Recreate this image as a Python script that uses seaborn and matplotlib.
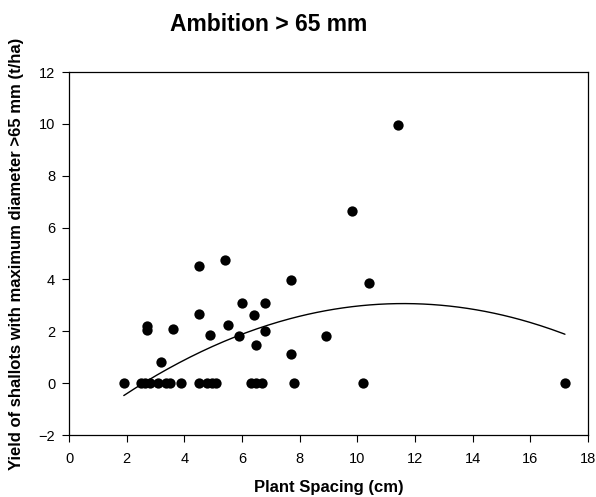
import matplotlib
matplotlib.use("Agg")
import matplotlib.pyplot as plt
import seaborn as sns
import numpy as np
import pandas as pd

spacing = [1.9, 2.5, 2.65, 2.8, 3.1, 3.35, 3.5, 3.9, 4.5, 4.8, 4.95, 5.1,
           6.3, 6.5, 6.7, 7.8, 10.2, 17.2,
           2.7, 2.7, 3.2, 3.6, 4.5, 4.9, 5.5, 5.9, 6.0, 6.4, 6.5, 6.8, 6.8,
           7.7, 8.9, 9.8, 10.4, 11.4, 4.5, 5.4, 7.7]
yield_t = [0, 0, 0, 0, 0, 0, 0, 0, 0, 0, 0, 0,
           0, 0, 0, 0, 0, 0,
           2.2, 2.05, 0.82, 2.1, 2.65, 1.86, 2.26, 1.81, 3.1, 2.63, 1.47, 3.1, 2.02,
           1.12, 1.81, 6.65, 3.85, 9.95, 4.52, 4.74, 3.97]

# quadratic regression curve shown in the chart: y = c2*x^2 + c1*x + c0
fit_coeffs = [-0.0377, 0.8746, -2.003]
fit_range = [1.9, 17.2]

df = pd.DataFrame({"spacing": spacing, "yield": yield_t})
xf = np.linspace(fit_range[0], fit_range[1], 200)
fit_df = pd.DataFrame({"spacing": xf, "yield": np.polyval(fit_coeffs, xf)})

sns.set_style("ticks")
plt.rcParams["font.family"] = ["Liberation Sans", "DejaVu Sans"]
plt.rcParams["text.color"] = "black"
plt.rcParams["axes.labelcolor"] = "black"
plt.rcParams["xtick.color"] = "black"
plt.rcParams["ytick.color"] = "black"

fig = plt.figure(figsize=(5.96, 4.97), dpi=100)
ax = fig.add_axes([0.1158, 0.1247, 0.8708, 0.7304])

sns.scatterplot(data=df, x="spacing", y="yield", ax=ax, s=55, color="black",
                edgecolor="black", linewidth=0, alpha=1, zorder=3)
sns.lineplot(data=fit_df, x="spacing", y="yield", ax=ax, color="black", lw=1.0)

ax.set_xlim(0, 18)
ax.set_ylim(-2, 12)
ax.set_xticks(range(0, 19, 2))
ax.set_yticks(range(-2, 13, 2))
ax.tick_params(direction="out", length=5, width=0.8, labelsize=10.5, color="black",
               labelcolor="black")
ax.tick_params(axis="x", pad=7)
ax.tick_params(axis="y", pad=5)
for s in ax.spines.values():
    s.set_visible(True)
    s.set_linewidth(0.9)
    s.set_color("black")

ax.set_xlabel("Plant Spacing (cm)", fontsize=12, fontweight="bold", labelpad=10,
              color="black")
ax.set_ylabel("")
fig.text(0.028, 0.49, "Yield of shallots with maximum diameter >65 mm (t/ha)",
         fontsize=12, fontweight="bold", rotation=90, ha="center", va="center",
         color="black")
fig.text(0.45, 0.950, "Ambition > 65 mm", fontsize=16.5, fontweight="bold",
         ha="center", va="center", color="black")

fig.savefig("out.png", dpi=100)
